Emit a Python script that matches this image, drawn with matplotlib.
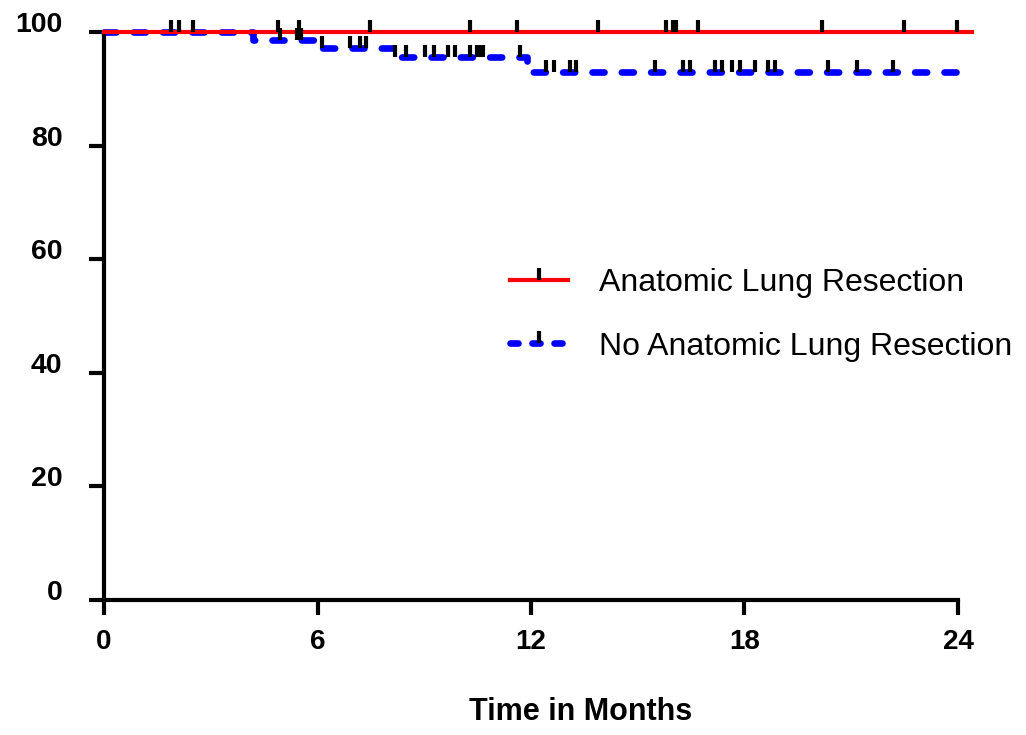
import numpy as np
import matplotlib
matplotlib.use("Agg")
import matplotlib.pyplot as plt
from matplotlib.lines import Line2D

# Kaplan-Meier steps (months, % surviving)
red_times = [0, 24.4]
red_surv = [100, 100]
red_censor = [1.88, 2.11, 2.50, 4.89, 5.48, 7.48, 10.29, 11.61, 13.88,
              15.80, 15.99, 16.08, 16.69, 20.18, 22.49, 23.97]

blue_times = [0, 4.2, 6.12, 8.15, 11.88, 24.0]
blue_surv = [100, 98.6, 97.2, 95.6, 92.9, 92.9]
blue_censor = [4.95, 5.42, 5.55, 6.14, 6.9, 7.2, 7.36, 8.18, 8.48, 9.02, 9.26,
               9.68, 9.87, 10.29, 10.47, 10.56, 10.66, 11.69, 12.42, 12.65,
               13.1, 13.26, 15.49, 16.28, 16.47, 17.17, 17.36, 17.64, 17.88,
               18.3, 18.67, 18.86, 20.36, 21.15, 22.18]

x_ticks = [0, 6, 12, 18, 24]
y_ticks = [0, 20, 40, 60, 80, 100]
labels = ["Anatomic Lung Resection", "No Anatomic Lung Resection"]

RED = "#FF0000"
BLUE = "#0000FF"
tick_marker = [(0, 0), (0, 1)]  # censor tick sitting on top of the line
sans = ["Liberation Sans", "DejaVu Sans"]


def step_value(times, surv, t):
    idx = np.searchsorted(times, t, side="right") - 1
    return np.array(surv)[idx]


fig = plt.figure(figsize=(10.26, 7.35), dpi=100)
ax = fig.add_axes([104 / 1026, 135 / 735, 854 / 1026, 568 / 735])

ax.plot(blue_times, blue_surv, drawstyle="steps-post", color=BLUE, lw=4.8,
        linestyle=(0, (1.8, 2.6)), dash_capstyle="round", clip_on=False, zorder=2)
ax.plot(red_times, red_surv, drawstyle="steps-post", color=RED, lw=3,
        clip_on=False, zorder=3)

ax.plot(red_censor, step_value(red_times, red_surv, red_censor), ls="none",
        marker=tick_marker, ms=18, mew=3, color="black", clip_on=False, zorder=4)
ax.plot(blue_censor, step_value(blue_times, blue_surv, blue_censor), ls="none",
        marker=tick_marker, ms=18, mew=3, color="black", clip_on=False, zorder=4)

ax.set_xlim(0, 24)
ax.set_ylim(0, 100)
ax.set_xticks(x_ticks, labels=[str(v) for v in x_ticks], fontsize=20,
              fontweight="bold", family=sans)
ax.set_yticks(y_ticks, labels=[str(v) for v in y_ticks], fontsize=20.5,
              fontweight="bold", family=sans, va="baseline")
for s in ["top", "right"]:
    ax.spines[s].set_visible(False)
for s in ["left", "bottom"]:
    ax.spines[s].set_linewidth(3)
ax.tick_params(width=3, length=11, direction="out")
ax.tick_params(axis="y", pad=19)
ax.tick_params(axis="x", pad=10)

ax.set_xlabel("Time in Months", fontsize=22, fontweight="bold",
              family=sans, va="center")
ax.xaxis.set_label_coords((581 - 104) / 854, -0.198)

h_red = (Line2D([], [], color=RED, lw=3),
         Line2D([], [], ls="none", marker=tick_marker, ms=18, mew=3, color="black"))
h_blue = (Line2D([], [], color=BLUE, lw=4.8, linestyle=(0, (1.2, 2.1)),
                 dash_capstyle="round"),
          Line2D([], [], ls="none", marker=tick_marker, ms=18, mew=3, color="black"))
ax.legend([h_red, h_blue], labels, loc="upper left",
          bbox_to_anchor=((510 - 104) / 854, (600 - 268) / 568),
          frameon=False, borderpad=0, borderaxespad=0, handlelength=1.8,
          handletextpad=1.0, labelspacing=1.05,
          prop={"family": sans, "size": 23})

fig.savefig("out.png", dpi=100)
